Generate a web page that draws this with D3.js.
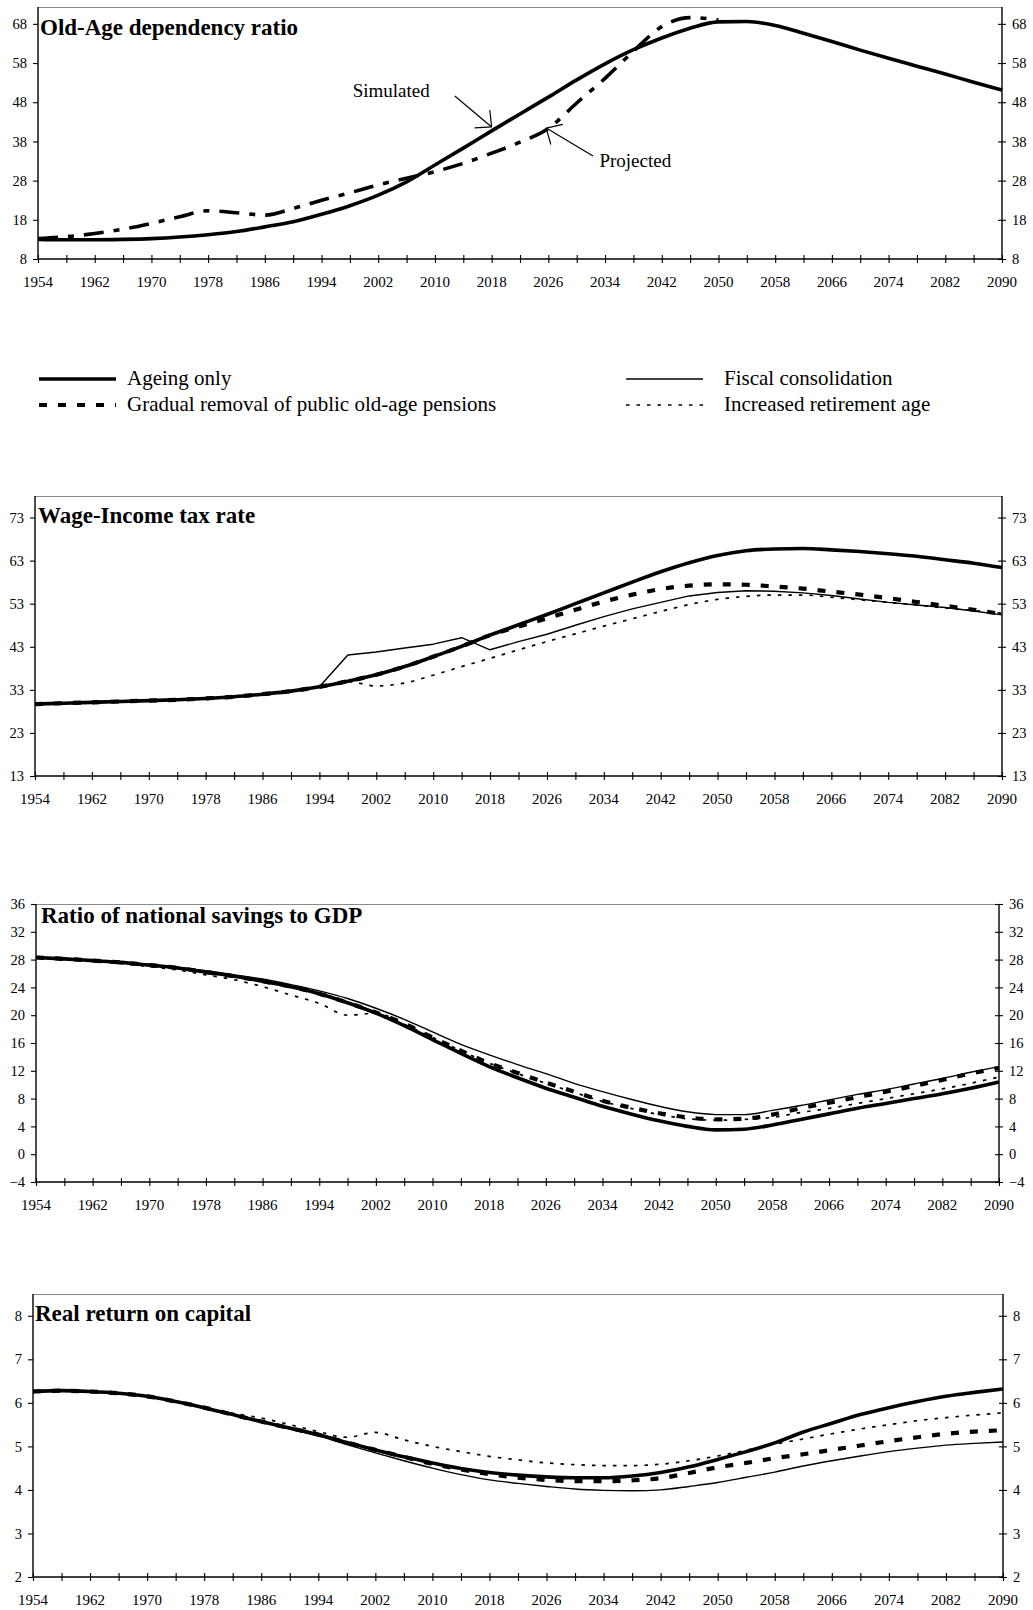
<!DOCTYPE html>
<html>
<head>
<meta charset="utf-8">
<script src="https://cdn.jsdelivr.net/npm/d3@7"></script>
<style>
  body { margin: 0; background: #fff; }
  svg { display: block; }
  text { font-family: "Liberation Serif", "Times New Roman", serif; fill: #000; }
</style>
</head>
<body>
<svg id="chart" width="1033" height="1610"></svg>
<script>
// Simulation years (4-year steps) and labelled years on the time axis
const years = [1954, 1958, 1962, 1966, 1970, 1974, 1978, 1982, 1986, 1990, 1994, 1998,
  2002, 2006, 2010, 2014, 2018, 2022, 2026, 2030, 2034, 2038, 2042, 2046, 2050,
  2054, 2058, 2062, 2066, 2070, 2074, 2078, 2082, 2086, 2090];
const yearLabels = [1954, 1962, 1970, 1978, 1986, 1994, 2002, 2010, 2018, 2026,
  2034, 2042, 2050, 2058, 2066, 2074, 2082, 2090];

// Old-age dependency ratio
const dependencySimulated = [13.0, 12.9, 12.9, 13.0, 13.2, 13.6, 14.2, 15.0, 16.2, 17.5, 19.4, 21.6,
  24.3, 27.7, 32.0, 36.3, 40.7, 45.0, 49.3, 53.7, 57.8, 61.4, 64.4, 66.9, 68.5,
  68.6, 67.6, 65.6, 63.5, 61.3, 59.2, 57.2, 55.2, 53.1, 51.1];
const dependencyProjected = [13.2, 13.7, 14.5, 15.6, 17.1, 18.8, 20.3, 19.8, 19.2, 20.9, 23.0, 24.9,
  26.9, 28.6, 30.3, 32.4, 35.0, 37.8, 41.3, 47.8, 54.1, 61.0, 67.3, 69.6, 69.0];
const dependencyTicks = [8, 18, 28, 38, 48, 58, 68];

// Wage-income tax rate
const taxAgeing = [29.7, 29.9, 30.1, 30.3, 30.5, 30.7, 31.0, 31.4, 32.0, 32.7, 33.7, 35.0,
  36.5, 38.4, 40.7, 43.1, 45.7, 48.1, 50.5, 53.0, 55.5, 58.0, 60.4, 62.5, 64.2,
  65.3, 65.7, 65.8, 65.5, 65.1, 64.6, 64.0, 63.2, 62.4, 61.4];
const taxGradual = [29.7, 29.9, 30.1, 30.3, 30.5, 30.7, 31.0, 31.4, 32.0, 32.7, 33.7, 35.0,
  36.5, 38.4, 40.7, 43.1, 45.7, 47.7, 49.6, 51.6, 53.5, 55.1, 56.4, 57.2, 57.5,
  57.4, 57.0, 56.5, 55.8, 55.1, 54.3, 53.4, 52.5, 51.6, 50.6];
const taxFiscal = [29.7, 29.9, 30.1, 30.3, 30.5, 30.7, 31.0, 31.4, 32.0, 32.7, 33.7, 41.1,
  41.8, 42.7, 43.6, 45.1, 42.3, 44.2, 45.9, 48.0, 50.0, 51.8, 53.3, 54.8, 55.6,
  56.0, 55.9, 55.5, 54.9, 54.1, 53.3, 52.7, 52.1, 51.3, 50.4];
const taxRetirement = [29.7, 29.9, 30.1, 30.3, 30.5, 30.7, 31.0, 31.4, 32.0, 32.7, 33.7, 34.9,
  33.9, 34.6, 36.4, 38.4, 40.3, 42.3, 44.2, 46.0, 47.8, 49.5, 51.2, 52.8, 54.0,
  54.7, 55.0, 55.0, 54.5, 53.9, 53.3, 52.7, 52.0, 51.4, 50.8];
const taxTicks = [13, 23, 33, 43, 53, 63, 73];

// Ratio of national savings to GDP
const savingsAgeing = [28.3, 28.1, 27.85, 27.6, 27.2, 26.8, 26.2, 25.6, 24.9, 24.1, 23.1, 21.8,
  20.3, 18.5, 16.5, 14.5, 12.6, 11.0, 9.5, 8.2, 6.9, 5.8, 4.8, 4.0, 3.5,
  3.6, 4.2, 5.0, 5.8, 6.6, 7.3, 8.0, 8.7, 9.5, 10.4];
const savingsGradual = [28.3, 28.1, 27.85, 27.6, 27.2, 26.8, 26.2, 25.6, 24.9, 24.1, 23.1, 21.8,
  20.4, 18.8, 16.8, 14.9, 13.1, 11.7, 10.3, 9.0, 7.7, 6.7, 5.9, 5.3, 5.0,
  5.1, 5.7, 6.6, 7.4, 8.2, 9.0, 9.8, 10.7, 11.6, 12.4];
const savingsFiscal = [28.3, 28.1, 27.9, 27.6, 27.3, 26.9, 26.4, 25.8, 25.2, 24.4, 23.5, 22.4,
  21.0, 19.4, 17.6, 15.8, 14.3, 12.9, 11.6, 10.2, 9.0, 7.9, 6.9, 6.1, 5.7,
  5.7, 6.3, 7.0, 7.8, 8.6, 9.3, 10.1, 10.9, 11.8, 12.6];
const savingsRetirement = [28.3, 28.0, 27.8, 27.4, 27.0, 26.5, 25.8, 25.1, 24.1, 22.9, 21.7, 20.0,
  20.3, 18.7, 16.8, 14.9, 13.1, 11.6, 10.2, 8.9, 7.6, 6.6, 5.7, 5.1, 4.9,
  5.0, 5.3, 6.0, 6.6, 7.3, 8.0, 8.7, 9.4, 10.2, 11.1];
const savingsTicks = [-4, 0, 4, 8, 12, 16, 20, 24, 28, 32, 36];

// Real return on capital
const returnAgeing = [6.26, 6.28, 6.26, 6.22, 6.15, 6.03, 5.89, 5.73, 5.57, 5.42, 5.27, 5.09,
  4.92, 4.76, 4.62, 4.49, 4.40, 4.34, 4.30, 4.28, 4.28, 4.32, 4.40, 4.53, 4.70,
  4.88, 5.08, 5.33, 5.53, 5.73, 5.89, 6.03, 6.15, 6.24, 6.32];
const returnGradual = [6.26, 6.28, 6.26, 6.22, 6.15, 6.03, 5.89, 5.73, 5.57, 5.42, 5.27, 5.09,
  4.92, 4.76, 4.60, 4.47, 4.36, 4.28, 4.23, 4.20, 4.20, 4.22, 4.27, 4.39, 4.52,
  4.62, 4.73, 4.82, 4.92, 5.02, 5.12, 5.21, 5.29, 5.34, 5.37];
const returnFiscal = [6.26, 6.28, 6.26, 6.22, 6.15, 6.03, 5.89, 5.73, 5.56, 5.40, 5.24, 5.04,
  4.85, 4.67, 4.50, 4.35, 4.23, 4.15, 4.08, 4.02, 3.99, 3.98, 4.00, 4.08, 4.17,
  4.29, 4.41, 4.55, 4.67, 4.78, 4.88, 4.96, 5.03, 5.07, 5.10];
const returnRetirement = [6.26, 6.28, 6.26, 6.22, 6.15, 6.03, 5.89, 5.76, 5.65, 5.50, 5.34, 5.21,
  5.32, 5.15, 5.00, 4.88, 4.77, 4.69, 4.62, 4.58, 4.56, 4.56, 4.59, 4.67, 4.78,
  4.91, 5.05, 5.17, 5.29, 5.40, 5.50, 5.59, 5.66, 5.72, 5.77];
const returnTicks = [2, 3, 4, 5, 6, 7, 8];

const scenarioNames = ["Ageing only", "Gradual removal of public old-age pensions",
  "Fiscal consolidation", "Increased retirement age"];

// Line styles for each scenario
const styles = {
  ageing:     { width: 3.6, dash: null },
  gradual:    { width: 4.2, dash: "8,11" },
  fiscal:     { width: 1.4, dash: null },
  retirement: { width: 1.7, dash: "3.5,7" },
  projected:  { width: 3.6, dash: "20,10,6,10" }
};

const smooth = d3.curveMonotoneX;
const straight = d3.curveLinear;

const svg = d3.select("#chart");

const panels = [
  { title: "Old-Age dependency ratio", left: 38, right: 1002, top: 7, bottom: 259,
    domain: [8, 72.3], ticks: dependencyTicks, titleY: 35, titleX: 40,
    series: [
      { values: dependencySimulated, style: styles.ageing, curve: smooth },
      { values: dependencyProjected, style: styles.projected, curve: smooth }
    ] },
  { title: "Wage-Income tax rate", left: 35, right: 1002, top: 496, bottom: 776,
    domain: [13, 78], ticks: taxTicks, titleY: 523, titleX: 38,
    series: [
      { values: taxFiscal, style: styles.fiscal, curve: straight },
      { values: taxRetirement, style: styles.retirement, curve: smooth },
      { values: taxGradual, style: styles.gradual, curve: smooth },
      { values: taxAgeing, style: styles.ageing, curve: smooth }
    ] },
  { title: "Ratio of national savings to GDP", left: 36, right: 999, top: 904, bottom: 1182,
    domain: [-4, 36], ticks: savingsTicks, titleY: 923, titleX: 41,
    series: [
      { values: savingsFiscal, style: styles.fiscal, curve: smooth },
      { values: savingsRetirement, style: styles.retirement, curve: smooth },
      { values: savingsGradual, style: styles.gradual, curve: smooth },
      { values: savingsAgeing, style: styles.ageing, curve: smooth }
    ] },
  { title: "Real return on capital", left: 33, right: 1003, top: 1294, bottom: 1577,
    domain: [2, 8.5], ticks: returnTicks, titleY: 1321, titleX: 35,
    series: [
      { values: returnFiscal, style: styles.fiscal, curve: smooth },
      { values: returnRetirement, style: styles.retirement, curve: smooth },
      { values: returnGradual, style: styles.gradual, curve: smooth },
      { values: returnAgeing, style: styles.ageing, curve: smooth }
    ] }
];

function styleLine(sel, st) {
  sel.attr("fill", "none").attr("stroke", "#000")
    .attr("stroke-width", st.width)
    .attr("stroke-linejoin", "round");
  if (st.dash) sel.attr("stroke-dasharray", st.dash);
}

panels.forEach(p => {
  const x = d3.scaleLinear().domain([1954, 2090]).range([p.left, p.right]);
  const y = d3.scaleLinear().domain(p.domain).range([p.bottom, p.top]);
  p.x = x; p.y = y;
  const g = svg.append("g");

  // top border
  g.append("line").attr("x1", p.left).attr("x2", p.right)
    .attr("y1", p.top + 0.5).attr("y2", p.top + 0.5)
    .attr("stroke", "#8a8a8a").attr("stroke-width", 1.2);

  // bottom time axis: a tick every four years, crossing the axis line
  const xAxis = g.append("g").attr("transform", `translate(0,${p.bottom})`)
    .call(d3.axisBottom(x).tickValues(years).tickSize(4).tickFormat(""));
  xAxis.select(".domain").attr("stroke", "#000").attr("stroke-width", 1.3).attr("d", `M${p.left},0H${p.right}`);
  xAxis.selectAll(".tick line").attr("y1", -4).attr("y2", 4).attr("stroke", "#000").attr("stroke-width", 1.1);
  xAxis.selectAll(".tick text").remove();
  g.selectAll(".xlab").data(yearLabels).join("text")
    .attr("x", d => x(d)).attr("y", p.bottom + 28)
    .attr("text-anchor", "middle").attr("font-size", 15).text(d => d);

  // left value axis
  const yl = g.append("g").attr("transform", `translate(${p.left},0)`)
    .call(d3.axisLeft(y).tickValues(p.ticks).tickSize(5).tickPadding(6).tickFormat(d3.format("d")));
  yl.select(".domain").attr("stroke", "#000").attr("stroke-width", 1.4).attr("d", `M0,${p.top}V${p.bottom}`);
  yl.selectAll(".tick line").attr("stroke", "#000").attr("stroke-width", 1.1);
  yl.selectAll(".tick text").attr("font-size", 14.5).attr("fill", "#000");

  // right value axis with crossing ticks
  const yr = g.append("g").attr("transform", `translate(${p.right},0)`)
    .call(d3.axisRight(y).tickValues(p.ticks).tickSize(4).tickPadding(6).tickFormat(d3.format("d")));
  yr.select(".domain").attr("stroke", "#000").attr("stroke-width", 1.4).attr("d", `M0,${p.top}V${p.bottom}`);
  yr.selectAll(".tick line").attr("x1", -4).attr("x2", 4).attr("stroke", "#000").attr("stroke-width", 1.1);
  yr.selectAll(".tick text").attr("font-size", 14.5).attr("fill", "#000");

  // series
  p.series.forEach(s => {
    const line = d3.line().x((d, i) => x(years[i])).y(d => y(d)).curve(s.curve);
    g.append("path").datum(s.values).attr("d", line).call(styleLine, s.style);
  });

  // panel title
  g.append("text").attr("x", p.titleX).attr("y", p.titleY)
    .attr("font-size", 23).attr("font-weight", "bold").text(p.title);
});

// Annotations on the dependency ratio panel
function arrow(p, from, to) {
  const [x0, y0] = [p.x(from[0]), p.y(from[1])];
  const [x1, y1] = [p.x(to[0]), p.y(to[1])];
  const ang = Math.atan2(y0 - y1, x0 - x1);
  const len = 17, spread = 0.76;
  const g = svg.append("g").attr("stroke", "#000").attr("stroke-width", 1.2).attr("fill", "none");
  g.append("line").attr("x1", x0).attr("y1", y0).attr("x2", x1).attr("y2", y1);
  [-spread, spread].forEach(s => {
    g.append("line").attr("x1", x1).attr("y1", y1)
      .attr("x2", x1 + len * Math.cos(ang + s)).attr("y2", y1 + len * Math.sin(ang + s));
  });
}
const p1 = panels[0];
arrow(p1, [2012.8, 49.6], [2018, 41.7]);
arrow(p1, [2032.3, 34.3], [2025.7, 41.4]);
svg.append("text").attr("x", p1.x(1998.4)).attr("y", p1.y(49.4)).attr("font-size", 19).text("Simulated");
svg.append("text").attr("x", p1.x(2033.2)).attr("y", p1.y(31.5)).attr("font-size", 19).text("Projected");

// Legend for the scenario panels
const legendItems = [
  { name: scenarioNames[0], style: styles.ageing,     x: 39,  y: 379, gap: 88 },
  { name: scenarioNames[1], style: styles.gradual,    x: 39,  y: 405, gap: 88 },
  { name: scenarioNames[2], style: styles.fiscal,     x: 626, y: 379, gap: 98 },
  { name: scenarioNames[3], style: styles.retirement, x: 626, y: 405, gap: 98 }
];
const lg = svg.append("g");
legendItems.forEach(d => {
  lg.append("line").attr("x1", d.x).attr("x2", d.x + 77).attr("y1", d.y).attr("y2", d.y)
    .call(styleLine, d.style);
  lg.append("text").attr("x", d.x + d.gap).attr("y", d.y + 6).attr("font-size", 21).text(d.name);
});
</script>
</body>
</html>
